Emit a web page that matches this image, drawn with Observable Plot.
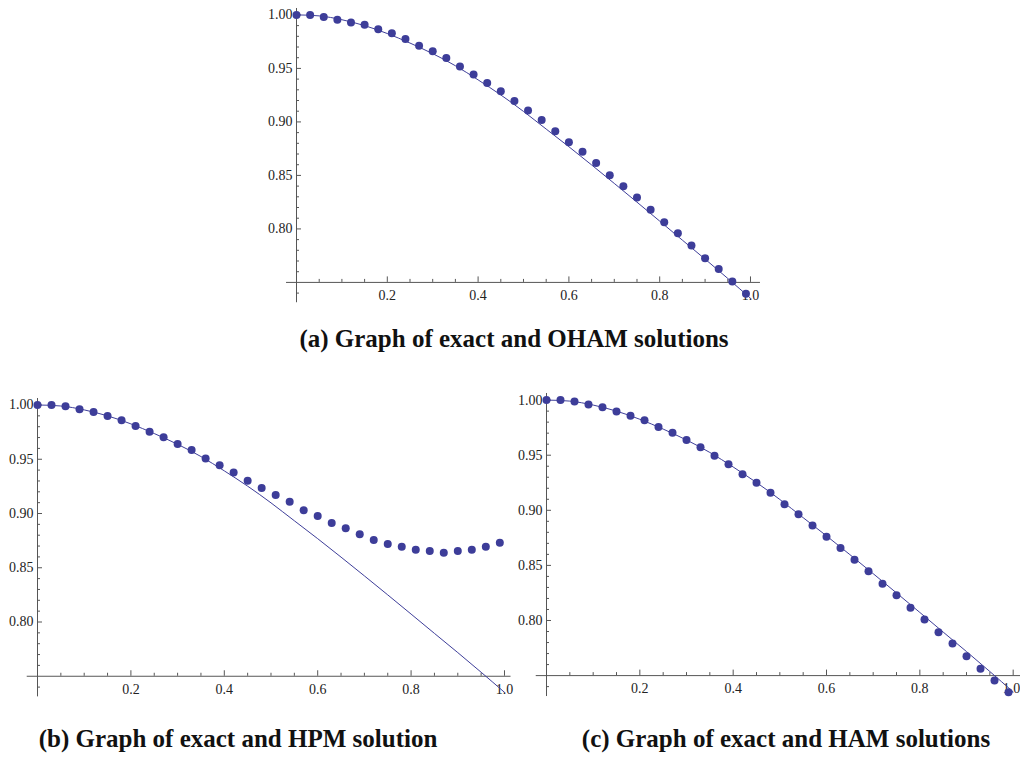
<!DOCTYPE html>
<html><head><meta charset="utf-8">
<script src="https://cdn.jsdelivr.net/npm/d3@7"></script>
<script src="https://cdn.jsdelivr.net/npm/@observablehq/plot@0.6"></script>
<style>
html,body{margin:0;padding:0;background:#fff;}
#root{position:relative;width:1020px;height:759px;overflow:hidden;background:#fff;}
.panel{position:absolute;}
.cap{position:absolute;font-family:"Liberation Serif","Times New Roman",serif;font-weight:bold;font-size:25px;color:#111;white-space:nowrap;transform:translate(-50%,-50%);}
</style></head><body><div id="root"></div>
<script>
// ---- data ----
const xDots = [0,0.03,0.06,0.09,0.12,0.15,0.18,0.21,0.24,0.27,0.30,0.33,0.36,0.39,0.42,0.45,0.48,0.51,0.54,0.57,0.60,0.63,0.66,0.69,0.72,0.75,0.78,0.81,0.84,0.87,0.90,0.93,0.96,0.99];
const ohamY = [1.000,1.000,0.998,0.9956,0.993,0.9907,0.9866,0.9829,0.9776,0.9713,0.966,0.9598,0.9517,0.9442,0.9364,0.9287,0.9196,0.9106,0.9019,0.8913,0.881,0.872,0.8617,0.8502,0.8399,0.8293,0.8178,0.8062,0.796,0.7844,0.7726,0.7626,0.7508,0.7393];
const hpmY  = [1.000,1.000,0.9988,0.996,0.9935,0.9899,0.9859,0.9806,0.9754,0.9702,0.9641,0.9585,0.9508,0.9444,0.9379,0.9303,0.9235,0.917,0.9109,0.9029,0.8977,0.8912,0.8863,0.8808,0.8756,0.8719,0.8694,0.8667,0.8654,0.8639,0.8654,0.8667,0.8694,0.8731];
const hamY  = [1.000,1.000,0.9988,0.9961,0.9936,0.9897,0.9858,0.9818,0.9755,0.9703,0.9637,0.9573,0.9495,0.9419,0.9328,0.9250,0.9159,0.9056,0.8965,0.8862,0.8759,0.8657,0.8551,0.8448,0.8333,0.8230,0.8115,0.8009,0.7894,0.7791,0.7676,0.7561,0.7455,0.7349];
const exactX = [0,0.05,0.10,0.15,0.20,0.25,0.30,0.35,0.40,0.45,0.50,0.55,0.60,0.65,0.70,0.75,0.80,0.85,0.90,0.95,1.00];
const exactY = [1.0000,0.9991,0.9955,0.9900,0.9826,0.9737,0.9638,0.9525,0.9393,0.9252,0.9098,0.8933,0.8768,0.8598,0.8425,0.8250,0.8073,0.7895,0.7718,0.7537,0.7352];
const xMajor = [0,0.2,0.4,0.6,0.8,1.0];
const xMinor = [0.05,0.1,0.15,0.25,0.3,0.35,0.45,0.5,0.55,0.65,0.7,0.75,0.85,0.9,0.95];
const yMajor = [0.80,0.85,0.90,0.95,1.00];
const yMinor = [0.74,0.76,0.77,0.78,0.79,0.81,0.82,0.83,0.84,0.86,0.87,0.88,0.89,0.91,0.92,0.93,0.94,0.96,0.97,0.98,0.99];
const captions = ["(a) Graph of exact and OHAM solutions","(b) Graph of exact and HPM solution","(c) Graph of exact and HAM solutions"];

// ---- layout ----
const C = "#3d3d99", AX = "#555";
const root = document.getElementById("root");
function panel(ys, g) {
  const mL=45,mR=6,mT=8,mB=30, ytop=1.006, ybot=0.731, xlo=-0.022, yaxis=0.75;
  const width = mL+mR+g.xmax*g.kx;
  const height = mT+mB+(ytop-yaxis)*g.ky;
  const dots = xDots.map((x,i)=>({x,y:ys[i]}));
  const exact = exactX.map((x,i)=>({x,y:exactY[i]}));
  const lastX = xMajor[xMajor.length-1];
  const marks = [
    Plot.ruleY([yaxis],{x1:xlo,x2:g.xmax,stroke:AX,strokeWidth:1}),
    Plot.ruleX([0],{y1:ybot,y2:ytop,stroke:AX,strokeWidth:1}),
    Plot.axisX(xMinor,{tickSize:-3, tickFormat:()=>"", stroke:AX}),
    Plot.axisX(xMajor,{tickSize:-5.5, tickPadding:13, tickFormat:d=>(d===0||(g.endLast&&d===lastX))?"":d.toFixed(1), stroke:AX}),
    Plot.axisY(yMinor,{tickSize:-3, tickFormat:()=>"", stroke:AX}),
    Plot.axisY(yMajor,{tickSize:-5, tickPadding:9, tickFormat:d=>d.toFixed(2), stroke:AX})
  ];
  if (g.endLast) {
    marks.push(Plot.text([lastX],{x:d=>d, y:yaxis, text:d=>d.toFixed(1), textAnchor:"end", lineAnchor:"top", dx:7, dy:7.5, fill:"#222"}));
  }
  marks.push(Plot.line(exact,{x:"x",y:"y",stroke:C,strokeWidth:1,curve:"natural"}));
  marks.push(Plot.dot(dots,{x:"x",y:"y",r:4,fill:C}));
  const svg = Plot.plot({
    width, height, marginLeft:mL, marginRight:mR, marginTop:mT, marginBottom:mB,
    x:{domain:[0,g.xmax], label:null},
    y:{domain:[yaxis,ytop], label:null},
    style:{fontFamily:'"Liberation Serif","Times New Roman",serif', fontSize:"14px", color:"#222", background:"transparent", overflow:"visible", maxWidth:"none"},
    marks
  });
  const div = document.createElement("div");
  div.className = "panel";
  div.style.left = (g.ox - mL) + "px";
  div.style.top = (g.oy - mT - (ytop-yaxis)*g.ky) + "px";
  div.style.width = width + "px";
  div.appendChild(svg);
  root.appendChild(div);
}
panel(ohamY, {ox:296, oy:281.5, kx:454, ky:1070, xmax:1.022});
panel(hpmY,  {ox:36.6, oy:675.7, kx:467, ky:1085, xmax:1.014});
panel(hamY,  {ox:546, oy:675.3, kx:466.7, ky:1102, xmax:1.016, endLast:true});

const capPos = [[514,339],[238,739],[786,739]];
captions.forEach((t,i)=>{
  const d = document.createElement("div");
  d.className = "cap";
  d.textContent = t;
  d.style.left = capPos[i][0]+"px";
  d.style.top = capPos[i][1]+"px";
  root.appendChild(d);
});
</script></body></html>
